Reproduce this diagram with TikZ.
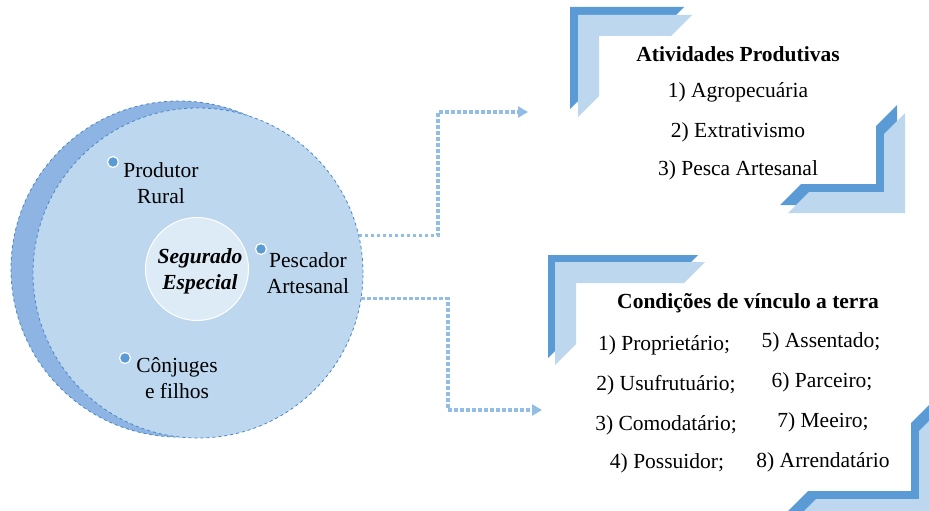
\documentclass[tikz,border=0pt]{standalone}
\usepackage{fontspec}
\setmainfont{Liberation Serif}
\usetikzlibrary{arrows.meta}
\definecolor{backblue}{HTML}{8DB4E2}
\definecolor{frontblue}{HTML}{BDD7EE}
\definecolor{innerblue}{HTML}{DDEBF7}
\definecolor{rimblue}{HTML}{4A86C8}
\definecolor{dotblue}{HTML}{5B9BD5}
\definecolor{darkbar}{HTML}{5B9BD5}
\definecolor{lightbar}{HTML}{BDD7EE}
\definecolor{flowblue}{HTML}{92BDE4}
\newcommand\cornerTL[5]{\fill[#5] (#1,#2) -- ++(#3,0) -- ++(-21,21) -- ++({42-#3},0) -- ++(0,{#4-42}) -- ++(-21,21) -- cycle;}
\newcommand\cornerBR[5]{\fill[#5] (#1,#2) -- ++(-#3,0) -- ++(21,-21) -- ++({#3-42},0) -- ++(0,{42-#4}) -- ++(21,-21) -- cycle;}
\tikzset{
  txt/.style={inner sep=0pt, font=\fontsize{21.5}{25.5}\selectfont, align=center, anchor=base},
  bold/.style={txt, font=\fontsize{21.5}{25.5}\selectfont\bfseries},
  dotmark/.style={circle, fill=dotblue, draw=white, line width=1.2pt, minimum size=11pt, inner sep=0pt},
  flow/.style={draw=flowblue, line width=3.2pt, dash pattern=on 3.3pt off 2.7pt, -{Triangle[length=10pt,width=11pt,fill=flowblue]}}
}
\begin{document}
\begin{tikzpicture}[x=1pt,y=-1pt]
\useasboundingbox (0,0) rectangle (929,511);
\begin{scope}
\clip (0,0) rectangle (929,511);
% corner decorations
\cornerTL{570}{7}{114}{102}{darkbar}
\cornerTL{578}{15}{114}{102}{lightbar}
\cornerBR{897}{205}{117}{100}{darkbar}
\cornerBR{905}{213}{117}{100}{lightbar}
\cornerTL{548}{255}{150}{103}{darkbar}
\cornerTL{555}{262}{150}{103}{lightbar}
\cornerBR{932}{512}{145}{110}{darkbar}
\cornerBR{940}{520}{145}{110}{lightbar}
\end{scope}
% circles
\node[circle, minimum size=336pt, inner sep=0pt, fill=backblue, draw=rimblue, dashed, line width=0.8pt] (back) at (179,269) {};
\node[circle, minimum size=330pt, inner sep=0pt, fill=frontblue, draw=rimblue, dashed, line width=0.8pt] (front) at (198,273) {};
\node[circle, minimum size=103pt, inner sep=0pt, fill=innerblue, draw=white, line width=1pt] (core) at (197,269) {};
\node[txt, font=\fontsize{21.5}{25.5}\selectfont\bfseries\itshape] (seg) at (200,289) {Segurado\\Especial};
% members
\node[dotmark] (d1) at (113,162) {};
\node[txt] (prod) at (161,203) {Produtor\\Rural};
\node[dotmark] (d2) at (261,249) {};
\node[txt] (pesc) at (308,293) {Pescador\\Artesanal};
\node[dotmark] (d3) at (125,358) {};
\node[txt] (conj) at (177,398) {Cônjuges\\e filhos};
% connectors
\coordinate (j1) at (438,112);
\coordinate (t1) at (528,112);
\coordinate (j2) at (448,410);
\coordinate (t2) at (542,410);
\draw[flow] (front.13.3) -| (j1) -- (t1);
\draw[flow] (front.-9.4) -| (j2) -- (t2);
% box 1
\node[bold] (ap) at (738,62) {Atividades Produtivas};
\node[txt] (a1) at (738,97) {1) Agropecuária};
\node[txt] (a2) at (738,137) {2) Extrativismo};
\node[txt] (a3) at (738,175) {3) Pesca Artesanal};
% box 2
\node[bold] (cv) at (748,308) {Condições de vínculo a terra};
\node[txt] (c1) at (664,350) {1) Proprietário;};
\node[txt] (c2) at (666,390) {2) Usufrutuário;};
\node[txt] (c3) at (666,430) {3) Comodatário;};
\node[txt] (c4) at (667,468) {4) Possuidor;};
\node[txt] (c5) at (821,347) {5) Assentado;};
\node[txt] (c6) at (822,387) {6) Parceiro;};
\node[txt] (c7) at (823,427) {7) Meeiro;};
\node[txt] (c8) at (823,467) {8) Arrendatário};
\end{tikzpicture}
\end{document}
